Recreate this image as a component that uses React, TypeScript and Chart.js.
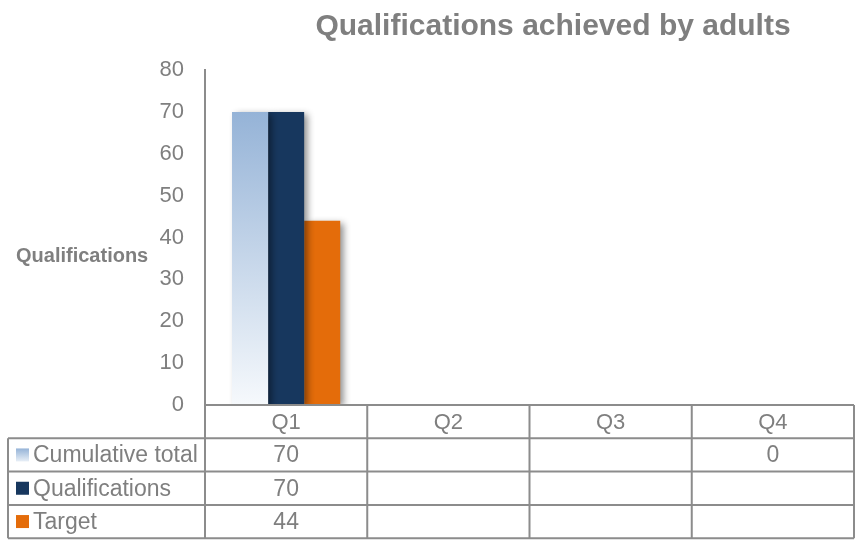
import { useEffect, useRef } from "react";
import { Chart, registerables } from "chart.js";

Chart.register(...registerables);

const chartTitle = "Qualifications achieved by adults";
const yAxisTitle = "Qualifications";
const categories = ["Q1", "Q2", "Q3", "Q4"];
const seriesNames = ["Cumulative total", "Qualifications", "Target"];
const cumulativeTotal: (number | null)[] = [70, null, null, 0];
const qualifications: (number | null)[] = [70, null, null, null];
const target: (number | null)[] = [44, null, null, null];
const yMin = 0;
const yMax = 80;
const yStep = 10;

const GRAD_TOP = "#95B3D7";
const GRAD_BOTTOM = "#F6F9FC";
const NAVY = "#17375E";
const ORANGE = "#E46C0A";
const TEXT = "#7F7F7F";
const LINE = "#8C8C8C";
const FONT = "'Liberation Sans', Arial, sans-serif";

export default function App() {
  const ref = useRef<HTMLCanvasElement | null>(null);

  useEffect(() => {
    const canvas = ref.current;
    if (!canvas) return;

    const gradientFill = (c: any) => {
      const chart = c.chart;
      const y = chart.scales?.y;
      if (!chart.chartArea || !y || !c.parsed) return GRAD_TOP;
      const v = c.parsed.y ?? 0;
      const top = y.getPixelForValue(v);
      const bottom = y.getPixelForValue(0);
      if (Math.abs(bottom - top) < 1) return GRAD_TOP;
      const g = chart.ctx.createLinearGradient(0, top, 0, bottom);
      g.addColorStop(0, GRAD_TOP);
      g.addColorStop(1, GRAD_BOTTOM);
      return g;
    };

    const seriesData = [cumulativeTotal, qualifications, target];
    const seriesColors = [null, NAVY, ORANGE];

    const shadowPlugin = {
      id: "barShadow",
      beforeDatasetDraw(chart: any) {
        const ctx = chart.ctx;
        ctx.save();
        ctx.shadowColor = "rgba(0,0,0,0.45)";
        ctx.shadowBlur = 7;
        ctx.shadowOffsetX = 4;
        ctx.shadowOffsetY = 2;
      },
      afterDatasetDraw(chart: any) {
        chart.ctx.restore();
      },
    };

    const decorPlugin = {
      id: "decor",
      afterDraw(chart: any) {
        const ctx = chart.ctx;
        const area = chart.chartArea;
        ctx.save();
        // title
        ctx.fillStyle = TEXT;
        ctx.font = `bold 30px ${FONT}`;
        ctx.textAlign = "center";
        ctx.textBaseline = "alphabetic";
        ctx.fillText(chartTitle, 553, 35);
        // y axis title
        ctx.font = `bold 20px ${FONT}`;
        ctx.textAlign = "left";
        ctx.fillText(yAxisTitle, 16, 262);

        // data table
        const n = categories.length;
        const colW = (area.right - area.left) / n;
        const rowH = 33.3;
        const top = area.bottom;
        const tableLeft = 8;
        const rows = seriesNames.length;
        const bottom = top + rowH * (rows + 1);

        ctx.strokeStyle = LINE;
        ctx.lineWidth = 2;
        ctx.beginPath();
        ctx.moveTo(area.left, top);
        ctx.lineTo(area.right, top);
        for (let r = 1; r <= rows + 1; r++) {
          const y = top + rowH * r;
          ctx.moveTo(tableLeft, y);
          ctx.lineTo(area.right, y);
        }
        ctx.moveTo(tableLeft, top + rowH);
        ctx.lineTo(tableLeft, bottom);
        for (let i = 0; i <= n; i++) {
          const x = area.left + colW * i;
          ctx.moveTo(x, top);
          ctx.lineTo(x, bottom);
        }
        ctx.stroke();

        ctx.fillStyle = TEXT;
        ctx.font = `22px ${FONT}`;
        ctx.textBaseline = "middle";
        ctx.textAlign = "center";
        categories.forEach((cat, i) => {
          ctx.fillText(cat, area.left + colW * (i + 0.5), top + rowH / 2 + 1);
        });

        seriesNames.forEach((name, r) => {
          const cy = top + rowH * (r + 1.5);
          const mx = 16, ms = 13, my = cy - ms / 2;
          if (r === 0) {
            const g = ctx.createLinearGradient(0, my, 0, my + ms);
            g.addColorStop(0, GRAD_TOP);
            g.addColorStop(1, "#E8EFF7");
            ctx.fillStyle = g;
          } else {
            ctx.fillStyle = seriesColors[r] as string;
          }
          ctx.fillRect(mx, my, ms, ms);
          ctx.fillStyle = TEXT;
          ctx.font = `23px ${FONT}`;
          ctx.textAlign = "left";
          ctx.fillText(name, 33, cy + 1);
          ctx.textAlign = "center";
          seriesData[r].forEach((v, i) => {
            if (v === null || v === undefined) return;
            ctx.fillText(String(v), area.left + colW * (i + 0.5), cy + 1);
          });
        });
        ctx.restore();
      },
    };

    const chart = new Chart(canvas, {
      type: "bar",
      data: {
        labels: categories,
        datasets: [
          {
            label: seriesNames[0],
            data: cumulativeTotal,
            backgroundColor: gradientFill,
            borderWidth: 0,
          },
          {
            label: seriesNames[1],
            data: qualifications,
            backgroundColor: NAVY,
            borderWidth: 0,
          },
          {
            label: seriesNames[2],
            data: target,
            backgroundColor: ORANGE,
            borderWidth: 0,
          },
        ],
      },
      options: {
        animation: false,
        responsive: true,
        maintainAspectRatio: false,
        layout: { padding: { top: 70, bottom: 135, left: 0, right: 4 } },
        datasets: {
          bar: { categoryPercentage: 0.667, barPercentage: 1 },
        },
        plugins: {
          legend: { display: false },
          title: { display: false },
          tooltip: { enabled: false },
        },
        scales: {
          x: { display: false },
          y: {
            min: yMin,
            max: yMax,
            afterFit(scale: any) {
              scale.width = 205;
            },
            ticks: {
              stepSize: yStep,
              color: TEXT,
              padding: 21,
              font: { family: FONT, size: 22 },
            },
            grid: { display: false, drawTicks: false },
            border: { display: true, color: LINE, width: 2 },
          },
        },
      },
      plugins: [shadowPlugin, decorPlugin],
    });

    return () => chart.destroy();
  }, []);

  return (
    <div style={{ position: "fixed", left: 0, top: 0, width: 858, height: 540, background: "#fff" }}>
      <canvas ref={ref} />
    </div>
  );
}
